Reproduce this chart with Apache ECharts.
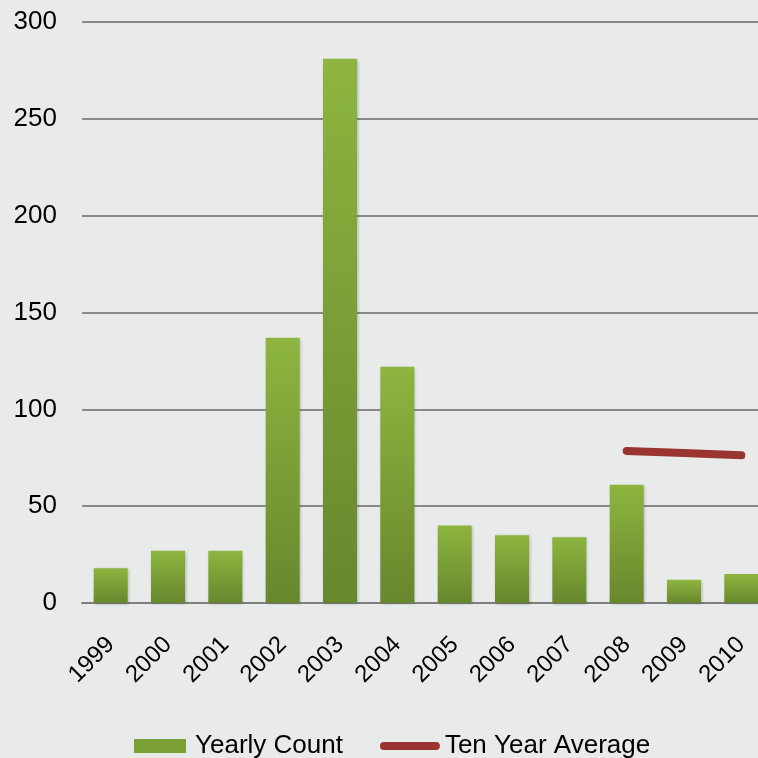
<!DOCTYPE html>
<html><head><meta charset="utf-8">
<script src="https://cdn.jsdelivr.net/npm/echarts@6/dist/echarts.min.js"></script>
<style>html,body{margin:0;padding:0;background:#e8ebea}#c{width:758px;height:758px}</style>
</head><body><div id="c"></div>
<script>
const years = ['1999','2000','2001','2002','2003','2004','2005','2006','2007','2008','2009','2010'];
const yearlyCount = [18, 27, 27, 137, 281, 122, 40, 35, 34, 61, 12, 15];
const tenYearAverage = [null, null, null, null, null, null, null, null, null, 78.5, 77.5, 76.3];
const yTicks = [0, 50, 100, 150, 200, 250, 300];

const chart = echarts.init(document.getElementById('c'), null, {renderer: 'canvas'});
const font = 'Liberation Sans, Arial, sans-serif';
chart.setOption({
  backgroundColor: '#e8ebea',
  animation: false,
  textStyle: {fontFamily: font},
  grid: {left: 82, top: 22, width: 688, height: 581, containLabel: false, outerBoundsMode: 'none'},
  legend: {
    bottom: -6, left: 129, itemWidth: 60, itemHeight: 14, itemGap: 37,
    textStyle: {fontSize: 26, color: '#000', fontFamily: font},
    data: [
      {name: 'Yearly Count', icon: 'path://M0,0 L52,0 L52,14 L0,14 Z', itemStyle: {color: '#7a9f35'}},
      {name: 'Ten Year Average', icon: 'path://M4,0 L56,0 A4,4 0 0 1 56,8 L4,8 A4,4 0 0 1 4,0 Z', itemStyle: {color: '#9a3431'}}
    ]
  },
  xAxis: {
    type: 'category', data: years,
    axisLine: {lineStyle: {color: '#7f7f7f', width: 2}},
    axisTick: {show: false},
    axisLabel: {rotate: 45, fontSize: 24, color: '#000', margin: 38, interval: 0, fontFamily: font}
  },
  yAxis: {
    type: 'value', min: yTicks[0], max: yTicks[yTicks.length - 1], interval: 50,
    axisLine: {show: false}, axisTick: {show: false},
    axisLabel: {fontSize: 26, color: '#000', margin: 25, fontFamily: font},
    splitLine: {lineStyle: {color: '#8a8a8a', width: 2}}
  },
  series: [
    {
      name: 'Yearly Count', type: 'bar', data: yearlyCount, barWidth: 34,
      itemStyle: {
        color: new echarts.graphic.LinearGradient(0, 0, 0, 1, [
          {offset: 0, color: '#8db53f'}, {offset: 1, color: '#67872d'}
        ]),
        shadowColor: 'rgba(0,0,0,0.25)', shadowBlur: 3, shadowOffsetX: 1, shadowOffsetY: 1
      }
    },
    {
      name: 'Ten Year Average', type: 'line', data: tenYearAverage,
      showSymbol: false, symbol: 'none', connectNulls: false,
      lineStyle: {color: '#9a3431', width: 8, cap: 'round', join: 'round'},
      itemStyle: {color: '#9a3431'}
    }
  ]
});
</script></body></html>
